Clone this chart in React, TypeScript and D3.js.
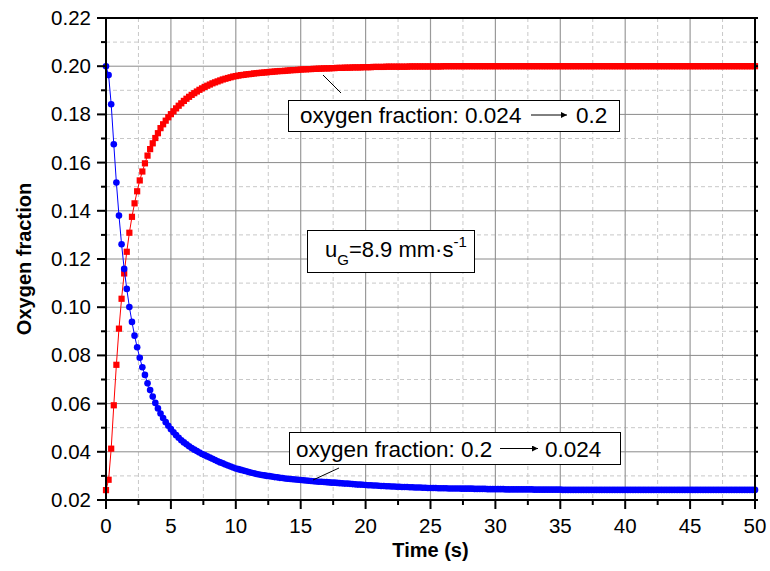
import React from "react";
import * as d3 from "d3";

// Sampling step of the recorded series (s)
const TIME_STEP = 0.2;

// Oxygen fraction, step 0.2 -> 0.024 (blue circles), t = 0 ... 50 s
const blueSeries: number[] = [
  /* 0   */ 0.2000, 0.1963, 0.1842, 0.1676, 0.1517, 0.1380, 0.1261, 0.1159, 0.1076, 0.1001,
  /* 10  */ 0.0939, 0.0882, 0.0834, 0.0790, 0.0751, 0.0719, 0.0684, 0.0656, 0.0629, 0.0603,
  /* 20  */ 0.0580, 0.0559, 0.0540, 0.0523, 0.0508, 0.0494, 0.0481, 0.0469, 0.0458, 0.0448,
  /* 30  */ 0.0439, 0.0431, 0.0423, 0.0416, 0.0409, 0.0403, 0.0397, 0.0391, 0.0386, 0.0381,
  /* 40  */ 0.0376, 0.0371, 0.0366, 0.0361, 0.0356, 0.0352, 0.0347, 0.0343, 0.0339, 0.0335,
  /* 50  */ 0.0331, 0.0328, 0.0325, 0.0322, 0.0319, 0.0316, 0.0313, 0.0311, 0.0308, 0.0306,
  /* 60  */ 0.0304, 0.0302, 0.0300, 0.0299, 0.0297, 0.0295, 0.0294, 0.0292, 0.0291, 0.0289,
  /* 70  */ 0.0288, 0.0287, 0.0286, 0.0285, 0.0284, 0.0283, 0.0282, 0.0281, 0.0280, 0.0279,
  /* 80  */ 0.0278, 0.0277, 0.0276, 0.0276, 0.0275, 0.0274, 0.0273, 0.0272, 0.0272, 0.0271,
  /* 90  */ 0.0270, 0.0269, 0.0268, 0.0268, 0.0267, 0.0266, 0.0265, 0.0264, 0.0264, 0.0263,
  /* 100 */ 0.0262, 0.0261, 0.0261, 0.0260, 0.0260, 0.0259, 0.0258, 0.0258, 0.0257, 0.0257,
  /* 110 */ 0.0256, 0.0256, 0.0255, 0.0255, 0.0254, 0.0254, 0.0254, 0.0253, 0.0253, 0.0252,
  /* 120 */ 0.0252, 0.0252, 0.0251, 0.0251, 0.0250, 0.0250, 0.0250, 0.0250, 0.0249, 0.0249,
  /* 130 */ 0.0249, 0.0249, 0.0248, 0.0248, 0.0248, 0.0248, 0.0248, 0.0247, 0.0247, 0.0247,
  /* 140 */ 0.0247, 0.0247, 0.0246, 0.0246, 0.0246, 0.0246, 0.0246, 0.0245, 0.0245, 0.0245,
  /* 150 */ 0.0245, 0.0245, 0.0245, 0.0245, 0.0244, 0.0244, 0.0244, 0.0244, 0.0244, 0.0244,
  /* 160 */ 0.0244, 0.0244, 0.0244, 0.0244, 0.0244, 0.0243, 0.0243, 0.0243, 0.0243, 0.0243,
  /* 170 */ 0.0243, 0.0243, 0.0243, 0.0243, 0.0243, 0.0243, 0.0242, 0.0242, 0.0242, 0.0242,
  /* 180 */ 0.0242, 0.0242, 0.0242, 0.0242, 0.0242, 0.0242, 0.0242, 0.0242, 0.0242, 0.0242,
  /* 190 */ 0.0242, 0.0242, 0.0242, 0.0242, 0.0242, 0.0242, 0.0242, 0.0242, 0.0242, 0.0242,
  /* 200 */ 0.0242, 0.0242, 0.0242, 0.0242, 0.0242, 0.0242, 0.0242, 0.0242, 0.0242, 0.0242,
  /* 210 */ 0.0242, 0.0242, 0.0242, 0.0242, 0.0242, 0.0242, 0.0242, 0.0242, 0.0242, 0.0242,
  /* 220 */ 0.0242, 0.0242, 0.0242, 0.0242, 0.0242, 0.0242, 0.0242, 0.0242, 0.0242, 0.0242,
  /* 230 */ 0.0242, 0.0242, 0.0242, 0.0242, 0.0242, 0.0242, 0.0242, 0.0242, 0.0242, 0.0242,
  /* 240 */ 0.0242, 0.0242, 0.0242, 0.0242, 0.0242, 0.0242, 0.0242, 0.0242, 0.0242, 0.0242,
  /* 250 */ 0.0242,
];

// Oxygen fraction, step 0.024 -> 0.2 (red squares), t = 0 ... 50 s
const redSeries: number[] = [
  /* 0   */ 0.0241, 0.0284, 0.0413, 0.0593, 0.0761, 0.0911, 0.1035, 0.1140, 0.1230, 0.1309,
  /* 10  */ 0.1375, 0.1431, 0.1481, 0.1526, 0.1563, 0.1597, 0.1629, 0.1656, 0.1680, 0.1702,
  /* 20  */ 0.1722, 0.1743, 0.1759, 0.1774, 0.1788, 0.1801, 0.1813, 0.1825, 0.1836, 0.1846,
  /* 30  */ 0.1856, 0.1865, 0.1873, 0.1881, 0.1888, 0.1895, 0.1902, 0.1908, 0.1914, 0.1919,
  /* 40  */ 0.1924, 0.1929, 0.1933, 0.1937, 0.1941, 0.1945, 0.1948, 0.1951, 0.1954, 0.1957,
  /* 50  */ 0.1959, 0.1961, 0.1963, 0.1964, 0.1966, 0.1967, 0.1968, 0.1970, 0.1971, 0.1972,
  /* 60  */ 0.1973, 0.1974, 0.1975, 0.1976, 0.1977, 0.1978, 0.1979, 0.1980, 0.1980, 0.1981,
  /* 70  */ 0.1982, 0.1983, 0.1984, 0.1984, 0.1985, 0.1986, 0.1987, 0.1987, 0.1988, 0.1988,
  /* 80  */ 0.1989, 0.1989, 0.1990, 0.1990, 0.1991, 0.1991, 0.1991, 0.1992, 0.1992, 0.1993,
  /* 90  */ 0.1993, 0.1993, 0.1994, 0.1994, 0.1994, 0.1995, 0.1995, 0.1995, 0.1995, 0.1996,
  /* 100 */ 0.1996, 0.1996, 0.1996, 0.1997, 0.1997, 0.1997, 0.1997, 0.1997, 0.1998, 0.1998,
  /* 110 */ 0.1998, 0.1998, 0.1998, 0.1998, 0.1998, 0.1998, 0.1998, 0.1999, 0.1999, 0.1999,
  /* 120 */ 0.1999, 0.1999, 0.1999, 0.1999, 0.1999, 0.1999, 0.1999, 0.1999, 0.1999, 0.1999,
  /* 130 */ 0.2000, 0.2000, 0.2000, 0.2000, 0.2000, 0.2000, 0.2000, 0.2000, 0.2000, 0.2000,
  /* 140 */ 0.2000, 0.2000, 0.2000, 0.2000, 0.2000, 0.2000, 0.2000, 0.2000, 0.2000, 0.2000,
  /* 150 */ 0.2000, 0.2000, 0.2000, 0.2000, 0.2000, 0.2000, 0.2000, 0.2000, 0.2000, 0.2000,
  /* 160 */ 0.2000, 0.2000, 0.2000, 0.2000, 0.2000, 0.2000, 0.2000, 0.2000, 0.2000, 0.2000,
  /* 170 */ 0.2000, 0.2000, 0.2000, 0.2000, 0.2000, 0.2000, 0.2000, 0.2000, 0.2000, 0.2000,
  /* 180 */ 0.2000, 0.2000, 0.2000, 0.2000, 0.2000, 0.2000, 0.2000, 0.2000, 0.2000, 0.2000,
  /* 190 */ 0.2000, 0.2000, 0.2000, 0.2000, 0.2000, 0.2000, 0.2000, 0.2000, 0.2000, 0.2000,
  /* 200 */ 0.2000, 0.2000, 0.2000, 0.2000, 0.2000, 0.2000, 0.2000, 0.2000, 0.2000, 0.2000,
  /* 210 */ 0.2000, 0.2000, 0.2000, 0.2000, 0.2000, 0.2000, 0.2000, 0.2000, 0.2000, 0.2000,
  /* 220 */ 0.2000, 0.2000, 0.2000, 0.2000, 0.2000, 0.2000, 0.2000, 0.2000, 0.2000, 0.2000,
  /* 230 */ 0.2000, 0.2000, 0.2000, 0.2000, 0.2000, 0.2000, 0.2000, 0.2000, 0.2000, 0.2000,
  /* 240 */ 0.2000, 0.2000, 0.2000, 0.2000, 0.2000, 0.2000, 0.2000, 0.2000, 0.2000, 0.2000,
  /* 250 */ 0.2000,
];

const xTicks = [0, 5, 10, 15, 20, 25, 30, 35, 40, 45, 50];
const xMinorTicks = [2.5, 7.5, 12.5, 17.5, 22.5, 27.5, 32.5, 37.5, 42.5, 47.5];
const yTicks = [0.02, 0.04, 0.06, 0.08, 0.1, 0.12, 0.14, 0.16, 0.18, 0.2, 0.22];
const yMinorTicks = [0.03, 0.05, 0.07, 0.09, 0.11, 0.13, 0.15, 0.17, 0.19, 0.21];

const xTitle = "Time (s)";
const yTitle = "Oxygen fraction";
const label1a = "oxygen fraction: 0.024";
const label1b = "0.2";
const label2a = "oxygen fraction: 0.2";
const label2b = "0.024";

const W = 770;
const H = 571;
const L = 106;
const R = 755;
const T = 18;
const B = 500;
const FONT = "'Liberation Sans', Arial, Helvetica, sans-serif";

export default function App() {
  const x = d3.scaleLinear().domain([0, 50]).range([L, R]);
  const y = d3.scaleLinear().domain([0.02, 0.22]).range([B, T]);

  const line = d3
    .line<number>()
    .x((_, i) => x(i * TIME_STEP))
    .y((d) => y(d));

  const sq = 6.2;

  return (
    <svg width={W} height={H} style={{ position: "absolute", left: 0, top: 0 }} fontFamily={FONT}>
      <defs>
        <marker id="arrowHead" viewBox="0 0 10 10" refX="10" refY="5" markerWidth="11" markerHeight="6" orient="auto" markerUnits="userSpaceOnUse">
          <path d="M0,0 L10,5 L0,10 z" fill="#000" />
        </marker>
      </defs>
      <rect x={0} y={0} width={W} height={H} fill="#fff" />
      {/* minor grid */}
      {xMinorTicks.map((t) => (
        <line key={"xm" + t} x1={x(t)} x2={x(t)} y1={T} y2={B} stroke="#c8c8c8" strokeDasharray="4,3" strokeWidth={1} />
      ))}
      {yMinorTicks.map((t) => (
        <line key={"ym" + t} x1={L} x2={R} y1={y(t)} y2={y(t)} stroke="#c8c8c8" strokeDasharray="4,3" strokeWidth={1} />
      ))}
      {/* major grid */}
      {xTicks.map((t) => (
        <line key={"xg" + t} x1={x(t)} x2={x(t)} y1={T} y2={B} stroke="#9a9a9a" strokeWidth={1.2} />
      ))}
      {yTicks.map((t) => (
        <line key={"yg" + t} x1={L} x2={R} y1={y(t)} y2={y(t)} stroke="#8a8a8a" strokeWidth={1} />
      ))}

      {/* red series */}
      <path d={line(redSeries) || ""} fill="none" stroke="#ff0000" strokeWidth={1} />
      {redSeries.map((v, i) => (
        <rect key={"r" + i} x={x(i * TIME_STEP) - sq / 2} y={y(v) - sq / 2} width={sq} height={sq} fill="#ff0000" />
      ))}
      {/* blue series */}
      <path d={line(blueSeries) || ""} fill="none" stroke="#0000ff" strokeWidth={1} />
      {blueSeries.map((v, i) => (
        <circle key={"b" + i} cx={x(i * TIME_STEP)} cy={y(v)} r={3.3} fill="#0000ff" />
      ))}

      {/* frame */}
      <rect x={L} y={T} width={R - L} height={B - T} fill="none" stroke="#000" strokeWidth={2} />

      {/* ticks */}
      {xTicks.map((t) => (
        <line key={"xt" + t} x1={x(t)} x2={x(t)} y1={B} y2={B + 9} stroke="#000" strokeWidth={2} />
      ))}
      {xMinorTicks.map((t) => (
        <line key={"xmt" + t} x1={x(t)} x2={x(t)} y1={B} y2={B + 5} stroke="#000" strokeWidth={2} />
      ))}
      {yTicks.map((t) => (
        <line key={"yt" + t} x1={L - 9} x2={L} y1={y(t)} y2={y(t)} stroke="#000" strokeWidth={2} />
      ))}
      {yMinorTicks.map((t) => (
        <line key={"ymt" + t} x1={L - 5} x2={L} y1={y(t)} y2={y(t)} stroke="#000" strokeWidth={2} />
      ))}
      {yTicks.concat(yMinorTicks).map((t) => (
        <line key={"yrt" + t} x1={R} x2={R + 3} y1={y(t)} y2={y(t)} stroke="#000" strokeWidth={2} />
      ))}

      {/* tick labels */}
      {xTicks.map((t) => (
        <text key={"xl" + t} x={x(t)} y={533} textAnchor="middle" fontSize={20.5} fill="#000">
          {String(t)}
        </text>
      ))}
      {yTicks.map((t) => (
        <text key={"yl" + t} x={91} y={y(t) + 7} textAnchor="end" fontSize={20.5} fill="#000">
          {t.toFixed(2)}
        </text>
      ))}

      {/* axis titles */}
      <text x={(L + R) / 2} y={557} textAnchor="middle" fontSize={20} fontWeight="bold" fill="#000">
        {xTitle}
      </text>
      <text transform={`translate(31, ${(T + B) / 2}) rotate(-90)`} textAnchor="middle" fontSize={20} fontWeight="bold" fill="#000">
        {yTitle}
      </text>

      {/* annotation 1 */}
      <line x1={323} y1={75} x2={341} y2={93} stroke="#000" strokeWidth={1} />
      <rect x={288.5} y={100.5} width={331} height={31} fill="#fff" stroke="#000" strokeWidth={1} />
      <text x={300} y={123} fontSize={22.5} fill="#000">{label1a}</text>
      <line x1={531} y1={115} x2={567} y2={115} stroke="#000" strokeWidth={1} markerEnd="url(#arrowHead)" />
      <text x={576} y={123} fontSize={22.5} fill="#000">{label1b}</text>

      {/* annotation 2 */}
      <line x1={339} y1={468} x2={313} y2={480} stroke="#000" strokeWidth={1} />
      <rect x={289.5} y={432.5} width={331} height={32} fill="#fff" stroke="#000" strokeWidth={1} />
      <text x={296} y={456.5} fontSize={22.5} fill="#000">{label2a}</text>
      <line x1={500} y1={448.5} x2={538} y2={448.5} stroke="#000" strokeWidth={1} markerEnd="url(#arrowHead)" />
      <text x={545} y={456.5} fontSize={22.5} fill="#000">{label2b}</text>

      {/* velocity label */}
      <rect x={307.5} y={230.5} width={167} height={42} fill="#fff" stroke="#000" strokeWidth={1} />
      <text x={325} y={257} fontSize={22} fill="#000">
        <tspan>u</tspan>
        <tspan fontSize={15} dy={8}>G</tspan>
        <tspan dy={-8}>=8.9 mm·s</tspan>
        <tspan fontSize={15} dy={-10}>-1</tspan>
      </text>
    </svg>
  );
}
